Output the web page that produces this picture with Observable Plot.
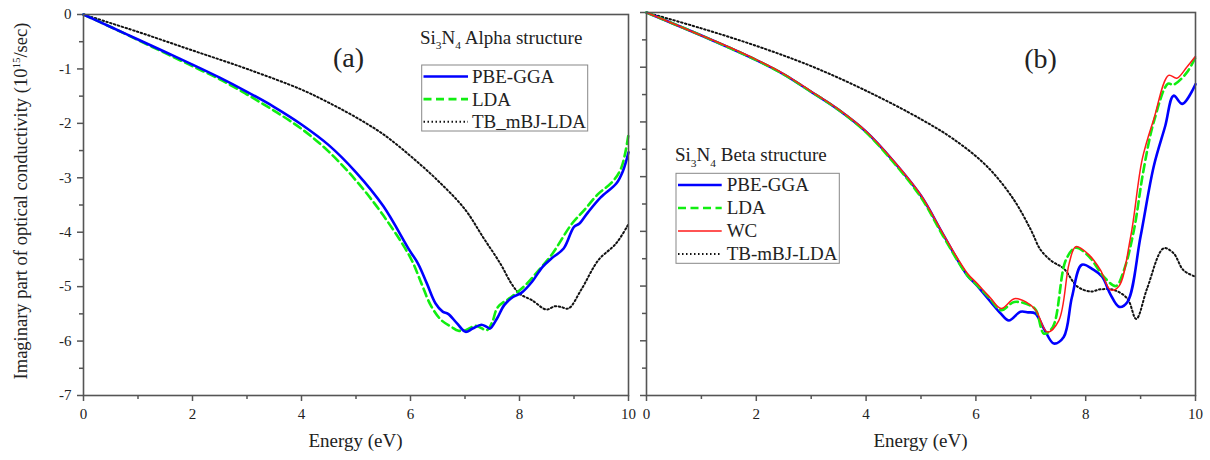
<!DOCTYPE html>
<html><head><meta charset="utf-8">
<script src="https://cdn.jsdelivr.net/npm/d3@7"></script>
<script src="https://cdn.jsdelivr.net/npm/@observablehq/plot@0.6"></script>
<style>
body{margin:0;background:#fff;}
#wrap{position:relative;width:1210px;height:460px;font-family:"Liberation Serif",serif;}
#wrap svg{position:absolute;top:0;}
</style></head><body><div id="wrap"></div>
<script>
// ---------- data (Energy in eV, imaginary optical conductivity in 10^15/sec) ----------
const xMajor = [0, 2, 4, 6, 8, 10];
const xMinor = [1, 3, 5, 7, 9];
const yMajor = [-7, -6, -5, -4, -3, -2, -1, 0];
const yMinor = [-6.5, -5.5, -4.5, -3.5, -2.5, -1.5, -0.5];

// Panel (a): alpha structure
const alphaPbeE = [0,0.5,1,1.5,2,2.5,3,3.5,4,4.5,5,5.5,5.98,6.14,6.3,6.46,6.59,6.69,6.85,7.01,7.14,7.3,7.4,7.46,7.59,7.72,7.88,8.04,8.23,8.42,8.59,8.81,9.0,9.1,9.26,9.49,9.78,9.9,10];
const alphaPbeV = [0,-0.23,-0.46,-0.69,-0.92,-1.16,-1.42,-1.70,-2.02,-2.40,-2.90,-3.52,-4.33,-4.58,-4.94,-5.31,-5.46,-5.50,-5.67,-5.83,-5.77,-5.70,-5.74,-5.77,-5.58,-5.34,-5.19,-5.11,-4.91,-4.64,-4.48,-4.30,-3.90,-3.84,-3.63,-3.36,-3.10,-2.87,-2.53];
const alphaLdaE = [0,0.5,1,1.5,2,2.5,3,3.5,4,4.5,5,5.5,6,6.2,6.37,6.56,6.75,6.88,7.01,7.2,7.4,7.5,7.6,7.85,8.1,8.3,8.6,8.95,9.2,9.45,9.7,9.87,10];
const alphaLdaV = [0,-0.23,-0.47,-0.71,-0.95,-1.19,-1.47,-1.77,-2.10,-2.52,-3.05,-3.69,-4.47,-4.94,-5.34,-5.61,-5.74,-5.81,-5.80,-5.72,-5.80,-5.65,-5.38,-5.19,-4.98,-4.76,-4.40,-3.86,-3.58,-3.29,-3.08,-2.81,-2.20];
const alphaTbE = [0,1,2,3,4,4.5,5,5.5,6,6.5,7,7.33,7.65,7.85,8,8.23,8.49,8.65,8.75,8.9,9.13,9.45,9.77,10];
const alphaTbV = [0,-0.32,-0.66,-1.0,-1.38,-1.62,-1.89,-2.2,-2.6,-3.05,-3.58,-4.09,-4.58,-4.94,-5.13,-5.25,-5.42,-5.36,-5.37,-5.40,-5.06,-4.51,-4.21,-3.85];

// Panel (b): beta structure
const betaPbeE = [0,0.5,1,1.5,2,2.5,3,3.5,4,4.5,5,5.4,5.84,6,6.27,6.45,6.6,6.81,6.95,7.08,7.25,7.42,7.6,7.75,7.93,8.14,8.3,8.45,8.61,8.76,9.0,9.24,9.45,9.6,9.76,10];
const betaPbeV = [0,-0.21,-0.42,-0.64,-0.87,-1.13,-1.45,-1.78,-2.18,-2.72,-3.35,-4.05,-4.80,-4.97,-5.29,-5.50,-5.63,-5.47,-5.48,-5.50,-5.80,-6.05,-5.93,-5.20,-4.61,-4.70,-4.83,-5.15,-5.38,-5.29,-4.09,-2.81,-2.07,-1.52,-1.67,-1.31];
const betaLdaE = [0,0.5,1,1.5,2,2.5,3,3.5,4,4.5,5,5.4,5.84,6.02,6.25,6.46,6.7,7.0,7.1,7.24,7.4,7.64,7.82,8.06,8.33,8.55,8.7,8.88,9.05,9.24,9.5,9.6,9.84,10];
const betaLdaV = [0,-0.21,-0.42,-0.64,-0.87,-1.13,-1.45,-1.78,-2.19,-2.74,-3.38,-4.08,-4.80,-4.98,-5.22,-5.44,-5.29,-5.36,-5.45,-5.87,-5.75,-4.52,-4.30,-4.46,-4.83,-5.00,-4.70,-3.97,-2.90,-2.00,-1.30,-1.32,-1.10,-0.82];
const betaWcE = [0,0.5,1,1.5,2,2.5,3,3.5,4,4.5,5,5.4,5.84,6.02,6.25,6.46,6.7,6.91,7.09,7.3,7.51,7.7,7.82,8.06,8.27,8.45,8.6,8.82,9.03,9.24,9.51,9.66,9.84,10];
const betaWcV = [0,-0.21,-0.42,-0.63,-0.86,-1.12,-1.44,-1.77,-2.17,-2.71,-3.34,-4.04,-4.76,-4.95,-5.20,-5.41,-5.23,-5.29,-5.44,-5.84,-5.63,-4.58,-4.28,-4.43,-4.71,-5.07,-5.01,-4.09,-2.68,-1.95,-1.15,-1.20,-1.00,-0.80];
const betaTbE = [0,1,2,3,4,5,5.6,6.2,6.69,7.0,7.18,7.39,7.6,7.85,8.09,8.27,8.51,8.76,8.92,9.12,9.42,9.6,9.78,10];
const betaTbV = [0,-0.29,-0.61,-0.98,-1.43,-1.95,-2.32,-2.81,-3.42,-3.97,-4.34,-4.55,-4.68,-5.01,-5.10,-5.06,-5.07,-5.23,-5.60,-5.04,-4.31,-4.40,-4.71,-4.83];

// ---------- styles ----------
const STY = {
  pbe: {color: "#0000ff", width: 2.6, dash: null},
  lda: {color: "#11ee11", width: 2.6, dash: "8,4.5"},
  wc:  {color: "#ff1a1a", width: 1.5, dash: null},
  tb:  {color: "#111111", width: 2, dash: "1.5,2.5"}
};
const axisColor = "#555";
const textColor = "#222";
const FONT = "'Liberation Serif', serif";

function mk(name, E, V, st) { return {name, E, V, st}; }

const alphaSeries = [
  mk("TB_mBJ-LDA", alphaTbE, alphaTbV, STY.tb),
  mk("LDA", alphaLdaE, alphaLdaV, STY.lda),
  mk("PBE-GGA", alphaPbeE, alphaPbeV, STY.pbe)
];
const betaSeries = [
  mk("TB-mBJ-LDA", betaTbE, betaTbV, STY.tb),
  mk("PBE-GGA", betaPbeE, betaPbeV, STY.pbe),
  mk("LDA", betaLdaE, betaLdaV, STY.lda),
  mk("WC", betaWcE, betaWcV, STY.wc)
];

function panel({series, width, marginLeft, marginRight, marginTop, yLabels}) {
  const marks = [
    Plot.axisX({ticks: xMajor, tickSize: 6, tickPadding: 7, stroke: axisColor, strokeWidth: 1.5, fill: textColor, fontSize: 15, label: null, tickFormat: d => String(d)}),
    Plot.axisX({ticks: xMinor, tickSize: 4, stroke: axisColor, strokeWidth: 1.5, fill: "none", label: null}),
    Plot.axisY({ticks: yMajor, tickSize: 6, tickPadding: 6, stroke: axisColor, strokeWidth: 1.5, fill: yLabels ? textColor : "none", fontSize: 15, label: null, tickFormat: d => d < 0 ? "-" + (-d) : String(d)}),
    Plot.axisY({ticks: yMinor, tickSize: 4, stroke: axisColor, strokeWidth: 1.5, fill: "none", label: null}),
    ...series.map(s => Plot.line(s.E.map((e, i) => ({e, v: s.V[i]})), {
      x: "e", y: "v", stroke: s.st.color, strokeWidth: s.st.width,
      strokeDasharray: s.st.dash, curve: "catmull-rom"
    })),
    Plot.frame({stroke: axisColor, strokeWidth: 1.6})
  ];
  return Plot.plot({
    width, height: 460, marginLeft, marginRight, marginTop, marginBottom: 65,
    x: {domain: [0, 10]}, y: {domain: [-7, 0]},
    style: {fontFamily: FONT, fontSize: "15px", background: "transparent", overflow: "visible"},
    marks
  });
}

function richText(g, parts, attrs, fs) {
  const t = g.append("text");
  Object.entries(attrs).forEach(([k, v]) => t.attr(k, v));
  let shift = 0;
  parts.forEach(([txt, kind]) => {
    const target = kind === "sub" ? fs * 0.3 : kind === "sup" ? -fs * 0.4 : 0;
    const ts = t.append("tspan").attr("dy", target - shift).text(txt);
    if (kind) ts.attr("font-size", fs * 0.6);
    shift = target;
  });
  return t;
}

function legend(svg, {titleParts, titleX, titleY, box, entries, firstY, step, s0, s1, textX}) {
  const g = d3.select(svg).append("g").attr("font-family", FONT).attr("fill", textColor).attr("text-anchor", "start");
  richText(g, titleParts, {x: titleX, y: titleY, "font-size": 19, "text-anchor": "start"}, 19);
  g.append("rect").attr("x", box[0]).attr("y", box[1]).attr("width", box[2] - box[0]).attr("height", box[3] - box[1])
    .attr("fill", "none").attr("stroke", "#888").attr("stroke-width", 1);
  entries.forEach((s, i) => {
    const y = firstY + i * step;
    g.append("line").attr("x1", s0).attr("x2", s1).attr("y1", y).attr("y2", y)
      .attr("stroke", s.st.color).attr("stroke-width", s.st.width)
      .attr("stroke-dasharray", s.st.dash);
    g.append("text").attr("x", textX).attr("y", y).attr("dy", "0.34em").attr("font-size", 19)
      .attr("text-anchor", "start").text(s.name);
  });
}

const wrap = document.getElementById("wrap");

// Panel (a)
const svgA = panel({series: alphaSeries, width: 640, marginLeft: 83, marginRight: 12, marginTop: 14, yLabels: true});
svgA.style.left = "0px";
wrap.appendChild(svgA);
// Panel (b)
const svgB = panel({series: betaSeries, width: 570, marginLeft: 6, marginRight: 15, marginTop: 12, yLabels: false});
svgB.style.left = "640px";
wrap.appendChild(svgB);

// Axis labels and panel tags
const ga = d3.select(svgA).append("g").attr("font-family", FONT).attr("fill", textColor);
richText(ga, [["Imaginary part of optical conductivity (10"], ["15", "sup"], ["/sec)"]],
  {transform: "translate(27,201) rotate(-90)", "text-anchor": "middle", "font-size": 18.5}, 18.5);
ga.append("text").attr("x", 355.5).attr("y", 447).attr("text-anchor", "middle").attr("font-size", 19).text("Energy (eV)");
ga.append("text").attr("x", 348.5).attr("y", 67).attr("text-anchor", "middle").attr("font-size", 28).text("(a)");

const gb = d3.select(svgB).append("g").attr("font-family", FONT).attr("fill", textColor);
gb.append("text").attr("x", 280.5).attr("y", 447).attr("text-anchor", "middle").attr("font-size", 19).text("Energy (eV)");
gb.append("text").attr("x", 400.5).attr("y", 67.5).attr("text-anchor", "middle").attr("font-size", 28).text("(b)");

// Legends
const byName = (arr, n) => arr.find(s => s.name === n);
legend(svgA, {
  titleParts: [["Si"], ["3", "sub"], ["N"], ["4", "sub"], [" Alpha structure"]],
  titleX: 420, titleY: 43.5, box: [421.7, 65, 587.7, 131],
  entries: [byName(alphaSeries, "PBE-GGA"), byName(alphaSeries, "LDA"), byName(alphaSeries, "TB_mBJ-LDA")],
  firstY: 76.5, step: 22.6, s0: 423.5, s1: 468, textX: 472
});
legend(svgB, {
  titleParts: [["Si"], ["3", "sub"], ["N"], ["4", "sub"], [" Beta structure"]],
  titleX: 35, titleY: 161, box: [36, 173.3, 199.3, 263.3],
  entries: [byName(betaSeries, "PBE-GGA"), byName(betaSeries, "LDA"), byName(betaSeries, "WC"), byName(betaSeries, "TB-mBJ-LDA")],
  firstY: 185, step: 23, s0: 38, s1: 81.7, textX: 86.7
});
</script></body></html>
